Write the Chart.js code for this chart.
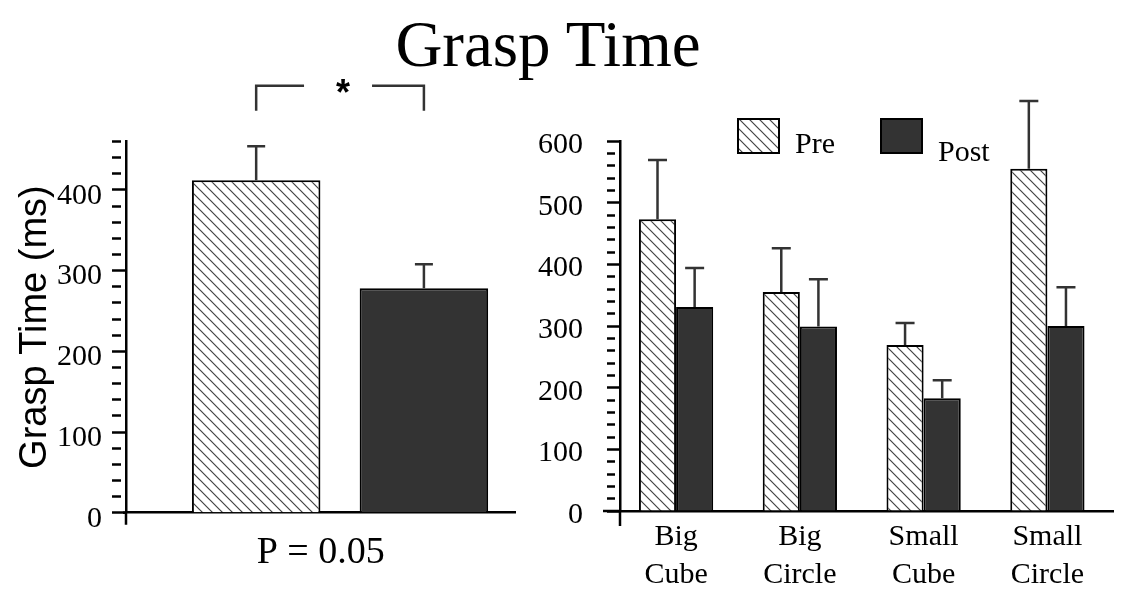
<!DOCTYPE html>
<html>
<head>
<meta charset="utf-8">
<script src="https://cdn.jsdelivr.net/npm/chart.js@4.4.1/dist/chart.umd.min.js"></script>
<style>
body { margin: 0; background: #fff; width: 1136px; height: 602px; position: relative; overflow: hidden; }
#title { position: absolute; left: 0; top: 12px; width: 1096px; text-align: center;
  font-family: "Liberation Serif", "Times New Roman", serif; font-size: 65px; line-height: 65px; color: #000; }
#chart-overall { position: absolute; left: 0; top: 0; }
#chart-shapes { position: absolute; left: 500px; top: 0; }
</style>
</head>
<body>
<div id="title">Grasp Time</div>
<canvas id="chart-overall" width="560" height="602"></canvas>
<canvas id="chart-shapes" width="636" height="602"></canvas>
<script>
// overall (left panel)
const overallLabels = ["Pre", "Post"];
const overallMeans = [412, 278];
const overallErrors = [42, 30];
const overallTickLabels = [0, 100, 200, 300, 400];

// per object (right panel)
const shapeLabels = [["Big", "Cube"], ["Big", "Circle"], ["Small", "Cube"], ["Small", "Circle"]];
const preMeans = [473, 355, 269, 555];
const preErrors = [96, 71, 36, 110];
const postMeans = [331, 299, 183, 300];
const postErrors = [63, 77, 29, 63];
const shapeTickLabels = [0, 100, 200, 300, 400, 500, 600];

const serif = "'Liberation Serif', 'Times New Roman', serif";
const sans = "'Liberation Sans', Arial, sans-serif";

function makeHatch() {
    const c = document.createElement("canvas");
    c.width = 10;
    c.height = 10;
    const g = c.getContext("2d");
    g.fillStyle = "#fff";
    g.fillRect(0, 0, 10, 10);
    g.strokeStyle = "#444";
    g.lineWidth = 1.2;
    g.beginPath();
    g.moveTo(-1, -1); g.lineTo(11, 11);
    g.moveTo(-1, 9); g.lineTo(1, 11);
    g.moveTo(9, -1); g.lineTo(11, 1);
    g.stroke();
    return g.createPattern(c, "repeat");
}
const hatch = makeHatch();
const dark = "#333";

// error bars, only the upper half, drawn above the bars
const errorBars = {
    id: "errorBars",
    afterDatasetsDraw(chart, args, opts) {
        const ctx = chart.ctx;
        const y = chart.scales.y;
        ctx.save();
        ctx.strokeStyle = "#333";
        ctx.lineWidth = 2.5;
        chart.data.datasets.forEach((ds, di) => {
            const errs = opts.errors[di];
            chart.getDatasetMeta(di).data.forEach((bar, i) => {
                const top = y.getPixelForValue(ds.data[i].y + errs[i]);
                ctx.beginPath();
                ctx.moveTo(bar.x, bar.y);
                ctx.lineTo(bar.x, top);
                ctx.moveTo(bar.x - opts.cap / 2, top);
                ctx.lineTo(bar.x + opts.cap / 2, top);
                ctx.stroke();
            });
        });
        ctx.restore();
    }
};

// small overhangs of the axis lines
const axisStubs = {
    id: "axisStubs",
    afterDraw(chart, args, opts) {
        const ctx = chart.ctx;
        const a = chart.chartArea;
        ctx.save();
        ctx.strokeStyle = "#000";
        ctx.lineWidth = 2.5;
        ctx.beginPath();
        ctx.moveTo(a.left, a.bottom);
        ctx.lineTo(a.left, a.bottom + opts.down);
        ctx.moveTo(a.left, a.bottom);
        ctx.lineTo(a.left - opts.left, a.bottom);
        ctx.stroke();
        ctx.restore();
    }
};

// significance bracket over the two overall bars
const bracket = {
    id: "bracket",
    afterDraw(chart, args, opts) {
        const ctx = chart.ctx;
        const bars = chart.getDatasetMeta(0).data;
        const y = chart.scales.y;
        const x1 = bars[0].x, x2 = bars[1].x;
        const mid = (x1 + x2) / 2;
        const yTop = y.getPixelForValue(opts.top);
        const yBot = y.getPixelForValue(opts.bottom);
        ctx.save();
        ctx.strokeStyle = "#333";
        ctx.lineWidth = 2.5;
        ctx.beginPath();
        ctx.moveTo(x1, yBot); ctx.lineTo(x1, yTop); ctx.lineTo(mid - 36, yTop);
        ctx.moveTo(mid + 32, yTop); ctx.lineTo(x2, yTop); ctx.lineTo(x2, yBot);
        ctx.stroke();
        ctx.fillStyle = "#000";
        ctx.font = "bold 36px " + sans;
        ctx.textAlign = "center";
        ctx.textBaseline = "alphabetic";
        ctx.fillText(opts.text, mid + 3, yTop + 19);
        ctx.restore();
    }
};

// legend drawn inside the plot, as in the original figure
const insideLegend = {
    id: "insideLegend",
    afterDraw(chart, args, opts) {
        const ctx = chart.ctx;
        const a = chart.chartArea;
        ctx.save();
        ctx.font = "30px " + serif;
        ctx.textBaseline = "alphabetic";
        chart.data.datasets.forEach((ds, i) => {
            const it = opts.items[i];
            const bx = a.left + it.dx;
            ctx.fillStyle = ds.backgroundColor;
            ctx.fillRect(bx, it.top, 43, 36);
            ctx.strokeStyle = "#000";
            ctx.lineWidth = 2;
            ctx.strokeRect(bx + 1, it.top + 1, 41, 34);
            ctx.fillStyle = "#000";
            ctx.fillText(ds.label, bx + 58, it.base);
        });
        ctx.restore();
    }
};

function yAxis(max, tickLabels, width, pad, labelOffset, majorLen, minorLen) {
    return {
        min: 0,
        max: max,
        afterFit: (s) => { s.width = width; },
        border: { display: true, color: "#000", width: 2.5 },
        grid: {
            drawOnChartArea: false,
            drawTicks: true,
            tickLength: majorLen,
            tickWidth: 2.5,
            tickColor: "#000",
            tickBorderDash: (c) => (c.tick && c.tick.value % 100 === 0 ? [] : [minorLen, 40]),
        },
        ticks: {
            stepSize: 20,
            autoSkip: false,
            padding: pad,
            labelOffset: labelOffset,
            color: "#000",
            font: { family: serif, size: 30 },
            callback: (v) => (tickLabels.includes(v) ? String(v) : ""),
        },
    };
}

new Chart(document.getElementById("chart-overall"), {
    type: "bar",
    data: {
        datasets: [
            {
                label: "Grasp Time",
                data: overallMeans.map((v, i) => ({ x: i, y: v })),
                backgroundColor: [hatch, dark],
                borderColor: "#000",
                borderWidth: 2,
                categoryPercentage: 1,
                barPercentage: 0.766,
            },
        ],
    },
    options: {
        responsive: false,
        animation: false,
        devicePixelRatio: 1,
        layout: { padding: { left: 0, right: 44.5, top: 141.5, bottom: 0 } },
        plugins: {
            legend: { display: false },
            tooltip: { enabled: false },
            errorBars: { errors: [overallErrors], cap: 18 },
            axisStubs: { down: 12, left: 3 },
            bracket: { top: 529, bottom: 498, text: "*" },
        },
        scales: {
            x: {
                type: "linear",
                min: -0.776,
                max: 1.546,
                offset: false,
                afterBuildTicks: (s) => { s.ticks = overallLabels.map((_, i) => ({ value: i })); },
                afterFit: (s) => { s.height = 89.3; },
                grid: { display: false, drawTicks: false },
                border: { display: true, color: "#000", width: 2.5 },
                ticks: { display: false },
                title: {
                    display: true,
                    text: "P = 0.05",
                    color: "#000",
                    font: { family: serif, size: 38, lineHeight: 1.2 },
                    padding: { top: 0, bottom: 26 },
                },
            },
            y: Object.assign(yAxis(460, overallTickLabels, 126, 10, 6, 14, 9), {
                title: {
                    display: true,
                    text: "Grasp Time (ms)",
                    color: "#000",
                    font: { family: sans, size: 38, lineHeight: 1 },
                    padding: { top: 17, bottom: 0 },
                },
            }),
        },
    },
    plugins: [errorBars, axisStubs, bracket],
});

new Chart(document.getElementById("chart-shapes"), {
    type: "bar",
    data: {
        datasets: [
            {
                label: "Pre",
                data: preMeans.map((v, i) => ({ x: i, y: v })),
                backgroundColor: hatch,
                borderColor: "#000",
                borderWidth: 2,
                categoryPercentage: 0.6,
                barPercentage: 1,
            },
            {
                label: "Post",
                data: postMeans.map((v, i) => ({ x: i, y: v })),
                backgroundColor: dark,
                borderColor: "#000",
                borderWidth: 2,
                categoryPercentage: 0.6,
                barPercentage: 1,
            },
        ],
    },
    options: {
        responsive: false,
        animation: false,
        devicePixelRatio: 1,
        layout: { padding: { left: 0, right: 23, top: 141, bottom: 0 } },
        plugins: {
            legend: { display: false },
            tooltip: { enabled: false },
            errorBars: { errors: [preErrors, postErrors], cap: 19 },
            axisStubs: { down: 15, left: 17 },
            insideLegend: {
                items: [
                    { dx: 117, top: 118, base: 153 },
                    { dx: 260, top: 118, base: 161 },
                ],
            },
        },
        scales: {
            x: {
                type: "linear",
                min: -0.453,
                max: 3.53,
                offset: false,
                afterBuildTicks: (s) => { s.ticks = shapeLabels.map((_, i) => ({ value: i })); },
                afterFit: (s) => { s.height = 91; },
                grid: { display: false, drawTicks: false },
                border: { display: true, color: "#000", width: 2.5 },
                ticks: {
                    autoSkip: false,
                    maxRotation: 0,
                    padding: 7,
                    color: "#000",
                    font: { family: serif, size: 30, lineHeight: 1.27 },
                    callback: (v) => shapeLabels[v],
                },
            },
            y: yAxis(600, shapeTickLabels, 120, 24, 4, 13, 8),
        },
    },
    plugins: [errorBars, axisStubs, insideLegend],
});
</script>
</body>
</html>
